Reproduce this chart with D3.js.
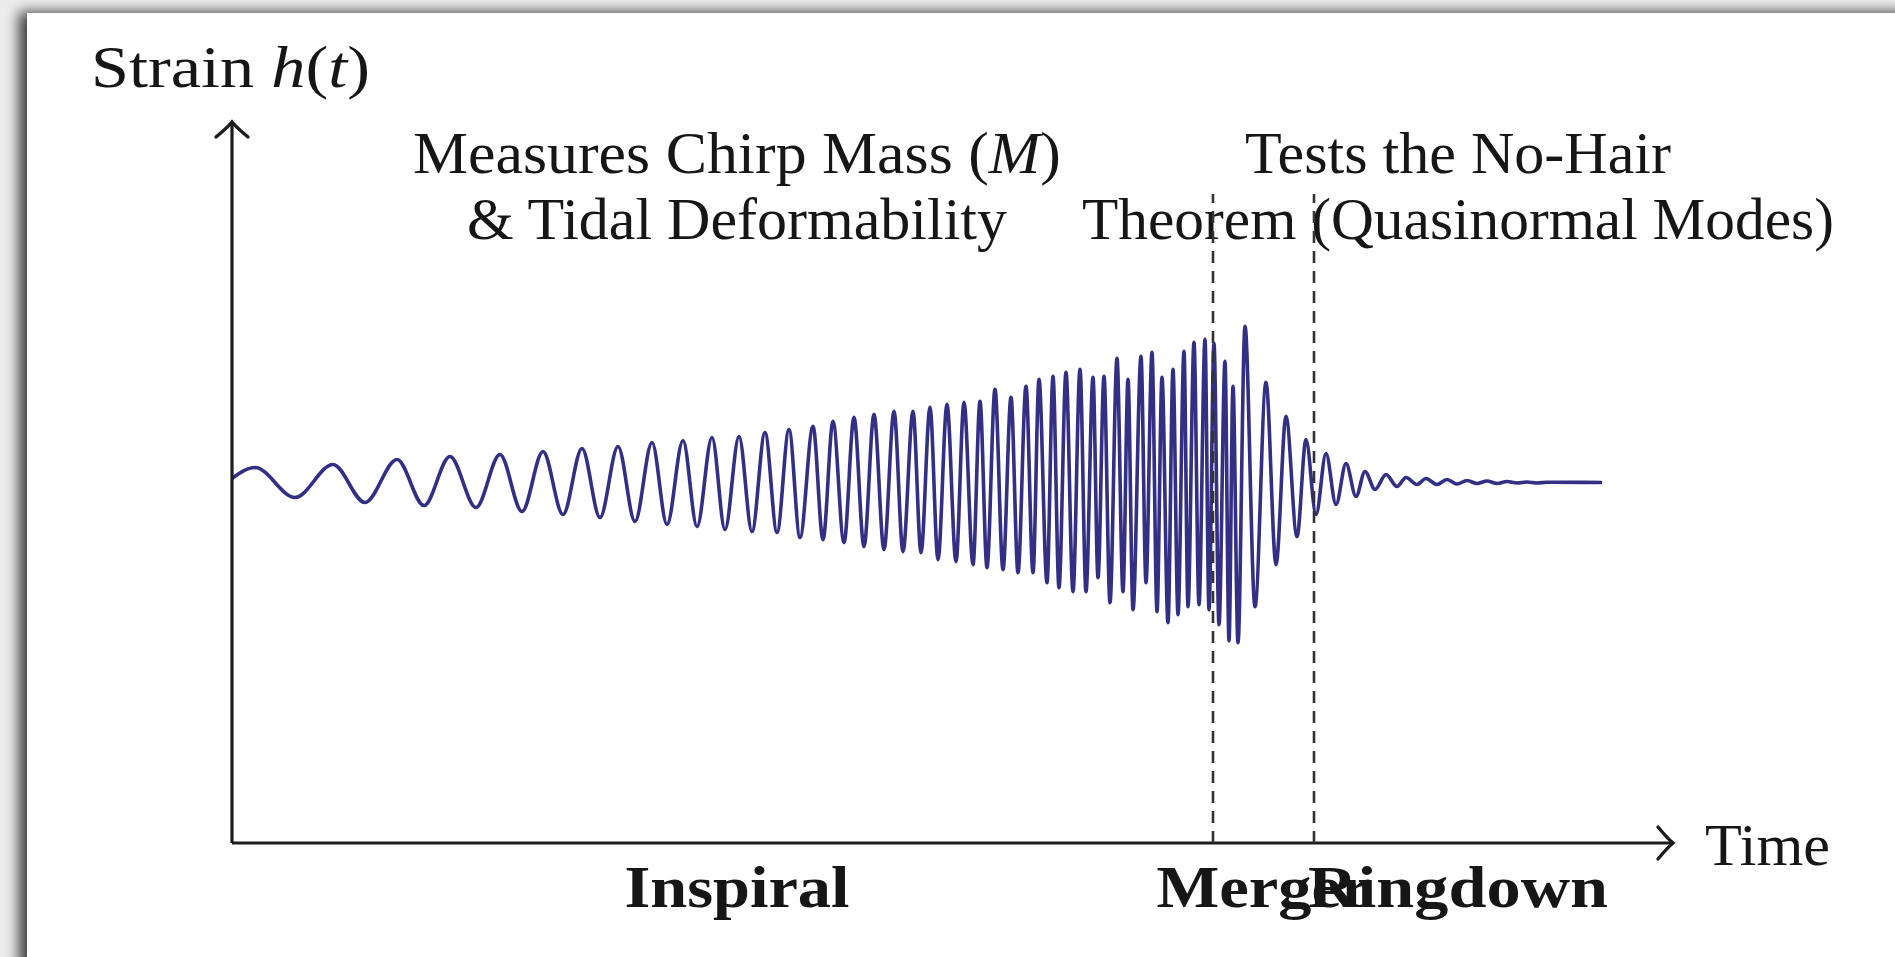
<!DOCTYPE html>
<html>
<head>
<meta charset="utf-8">
<script src="https://cdn.jsdelivr.net/npm/d3@7"></script>
<style>
  body { margin: 0; background: #eeeeee; overflow: hidden; }
  text { font-family: "Liberation Serif", "Times New Roman", serif; fill: #161616; }
</style>
</head>
<body>
<script>
// peaks and troughs of h(t) (arbitrary time / strain units)
var waveT = [0, 23, 63, 101, 133, 165, 192, 218, 244, 268, 290, 311, 331, 350, 368, 386, 403, 420, 435, 451, 465,
  480, 493, 507, 520, 533, 545, 557, 568, 581, 591, 601, 612, 622, 632, 642, 652, 662, 671, 681, 689,
  698, 706, 715, 724, 732, 741, 748, 755, 763, 771, 779, 786, 794, 801, 807, 815, 821, 827, 834, 841,
  848, 854, 861, 866, 872, 878, 885, 891, 896, 901, 909, 914, 920, 925, 930, 936, 941, 946, 952, 956,
  962, 967, 973, 977, 982, 987, 993, 997, 1001, 1006, 1013, 1023, 1034, 1044, 1054, 1065, 1074, 1084,
  1094, 1104, 1114, 1124, 1133, 1143, 1154, 1165, 1174, 1185, 1194, 1205, 1215, 1225, 1235, 1245,
  1255, 1265, 1275, 1285, 1295, 1305, 1315, 1370];
var waveH = [0.04, 0.15, -0.15, 0.18, -0.20, 0.23, -0.23, 0.26, -0.25, 0.28, -0.29, 0.31, -0.32, 0.34, -0.35, 0.36, -0.39, 0.40, -0.42, 0.42, -0.44,
  0.45, -0.47, 0.46, -0.49, 0.50, -0.50, 0.53, -0.55, 0.56, -0.57, 0.61, -0.60, 0.65, -0.64, 0.68, -0.67, 0.71, -0.69, 0.71, -0.70,
  0.75, -0.77, 0.78, -0.79, 0.80, -0.82, 0.81, -0.85, 0.93, -0.87, 0.85, -0.90, 0.96, -0.90, 1.03, -1.00, 1.06, -1.05, 1.10, -1.09,
  1.13, -1.09, 1.05, -0.95, 1.06, -1.20, 1.24, -1.09, 1.03, -1.27, 1.26, -1.00, 1.30, -1.29, 1.05, -1.40, 1.13, -1.32, 1.31, -1.24,
  1.40, -1.22, 1.43, -1.27, 1.39, -1.42, 1.21, -1.58, 0.96, -1.60, 1.56, -1.24, 1.00, -0.82, 0.66, -0.54, 0.43, -0.32,
  0.29, -0.22, 0.19, -0.14, 0.11, -0.07, 0.08, -0.04, 0.05, -0.02, 0.04, -0.02, 0.03, -0.015, 0.02, -0.01,
  0.015, -0.01, 0.01, -0.005, 0.005, -0.005, 0.003, 0];

var phaseNames = ["Inspiral", "Merger", "Ringdown"];
var phaseMid = [505, 1031.5, 1226];
var phaseBounds = [981, 1082];

var noteLine1 = ["Measures Chirp Mass (", "Tests the No-Hair"];
var noteLine2 = ["& Tidal Deformability", "Theorem (Quasinormal Modes)"];
var notePhase = [0, 2];

var W = 1895, H = 957;
var x = d3.scaleLinear().domain([0, 1441]).range([232, 1673]);
var y = d3.scaleLinear().domain([-3.6, 3.6]).range([843, 122]);

var svg = d3.select("body").append("svg").attr("width", W).attr("height", H);
var defs = svg.append("defs");
var filt = defs.append("filter").attr("id", "shadow")
  .attr("x", "-5%").attr("y", "-5%").attr("width", "110%").attr("height", "110%");
filt.append("feDropShadow").attr("dx", -8).attr("dy", -1).attr("stdDeviation", 7)
  .attr("flood-color", "#000").attr("flood-opacity", 0.75);

svg.append("rect").attr("width", W).attr("height", H).attr("fill", "#ececec");
svg.append("rect").attr("x", 27).attr("y", 13).attr("width", W).attr("height", H)
  .attr("fill", "#fff").attr("filter", "url(#shadow)");

var g = svg.append("g");
var axisColor = "#1c1c1c";

// waveform
var pts = waveT.map(function(t, i) { return [t, waveH[i]]; });
var line = d3.line().x(function(d) { return x(d[0]); }).y(function(d) { return y(d[1]); })
  .curve(d3.curveMonotoneX);
g.append("path").attr("d", line(pts))
  .attr("fill", "none").attr("stroke", "#332f84").attr("stroke-width", 3.6)
  .attr("stroke-linejoin", "round");

// axes
var x0 = x(0), yb = y(-3.6), yt = y(3.6), xr = x(1441);
g.append("line").attr("x1", x0).attr("y1", yb).attr("x2", x0).attr("y2", yt)
  .attr("stroke", axisColor).attr("stroke-width", 3.2);
g.append("line").attr("x1", x0).attr("y1", yb).attr("x2", xr).attr("y2", yb)
  .attr("stroke", axisColor).attr("stroke-width", 3.2);
g.append("path")
  .attr("d", "M" + (x0 - 16) + "," + (yt + 15) + "Q" + (x0 - 4) + "," + (yt + 5) + " " + x0 + "," + yt +
             "Q" + (x0 + 4) + "," + (yt + 5) + " " + (x0 + 16) + "," + (yt + 15))
  .attr("fill", "none").attr("stroke", axisColor).attr("stroke-width", 3.4).attr("stroke-linecap", "round");
g.append("path")
  .attr("d", "M" + (xr - 15) + "," + (yb - 16) + "Q" + (xr - 5) + "," + (yb - 4) + " " + xr + "," + yb +
             "Q" + (xr - 5) + "," + (yb + 4) + " " + (xr - 15) + "," + (yb + 16))
  .attr("fill", "none").attr("stroke", axisColor).attr("stroke-width", 3.4).attr("stroke-linecap", "round");

// axis titles
var yl = g.append("text").attr("x", 91).attr("y", 87).attr("font-size", 60)
  .attr("textLength", 279).attr("lengthAdjust", "spacingAndGlyphs");
yl.append("tspan").text("Strain ");
yl.append("tspan").attr("font-style", "italic").text("h");
yl.append("tspan").text("(");
yl.append("tspan").attr("font-style", "italic").text("t");
yl.append("tspan").text(")");

g.append("text").attr("x", xr + 32).attr("y", yb + 22).attr("font-size", 60)
  .attr("textLength", 125).attr("lengthAdjust", "spacingAndGlyphs").text("Time");

// notes above the phases
var w1 = [648, 426], w2 = [540, 752];
notePhase.forEach(function(p, i) {
  var cx = x(phaseMid[p]);
  var t1 = g.append("text").attr("x", cx).attr("y", 173).attr("text-anchor", "middle")
    .attr("font-size", 60).attr("textLength", w1[i]).attr("lengthAdjust", "spacingAndGlyphs");
  t1.append("tspan").text(noteLine1[i]);
  if (i === 0) {
    t1.append("tspan").attr("font-style", "italic").text("M");
    t1.append("tspan").text(")");
  }
  g.append("text").attr("x", cx).attr("y", 239).attr("text-anchor", "middle")
    .attr("font-size", 60).attr("textLength", w2[i]).attr("lengthAdjust", "spacingAndGlyphs")
    .text(noteLine2[i]);
});

// phase boundaries
g.selectAll("line.bound").data(phaseBounds).enter().append("line").attr("class", "bound")
  .attr("x1", function(d) { return x(d); }).attr("x2", function(d) { return x(d); })
  .attr("y1", yb).attr("y2", y(2.88))
  .attr("stroke", "#333").attr("stroke-width", 2.6).attr("stroke-dasharray", "12,8");

// phase names (Merger and Ringdown overlap in the original as well)
var pw = [225, 214, 300];
g.selectAll("text.phase").data(phaseNames).enter().append("text").attr("class", "phase")
  .attr("x", function(d, i) { return x(phaseMid[i]); })
  .attr("y", yb + 64).attr("text-anchor", "middle")
  .attr("font-size", 60).attr("font-weight", "bold")
  .attr("textLength", function(d, i) { return pw[i]; }).attr("lengthAdjust", "spacingAndGlyphs")
  .text(function(d) { return d; });
</script>
</body>
</html>
